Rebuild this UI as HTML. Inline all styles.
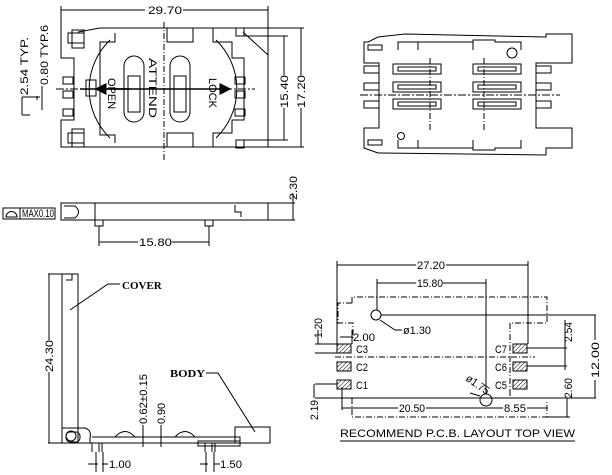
<!DOCTYPE html>
<html><head><meta charset="utf-8"><style>
html,body{margin:0;padding:0;background:#fff;}
svg{display:block;}
text{font-family:"Liberation Sans",sans-serif;font-size:11px;fill:#000;stroke:none;}
</style></head><body>
<svg width="612" height="475" viewBox="0 0 612 475" xmlns="http://www.w3.org/2000/svg" fill="none" stroke="#000" stroke-width="1">
<defs>
<pattern id="h" width="3" height="3" patternUnits="userSpaceOnUse" patternTransform="rotate(45)"><line x1="0" y1="0" x2="0" y2="3" stroke="#000" stroke-width="1"/></pattern>
<marker id="a" markerWidth="8" markerHeight="8" refX="7" refY="4" orient="auto"><path d="M0,0 L8,4 L0,8z" fill="#000" stroke="none"/></marker>
</defs>

<!-- ===== TOP-LEFT VIEW ===== -->
<line x1="61" y1="6" x2="61" y2="38"/><line x1="268" y1="6" x2="268" y2="28"/>
<line x1="61" y1="10" x2="145" y2="10"/><line x1="183" y1="10" x2="268" y2="10"/>
<text x="148" y="14" textLength="34" lengthAdjust="spacingAndGlyphs">29.70</text>
<path d="M61,36 L61,58 L74,58 L74,120 L61,120 L61,147 L268,147 L268,28 L100,28 L78,32"/>
<path d="M115,33 L115,42 L100,42 L100,135 L115,135 L115,143"/>
<path d="M243,32 L268,55"/>
<rect x="68" y="33" width="16" height="10"/><rect x="72" y="30" width="12" height="18"/>
<rect x="68" y="133" width="16" height="10"/><rect x="72" y="129" width="12" height="18"/>
<rect x="236" y="28" width="8" height="8"/><rect x="236" y="140" width="8" height="8"/>
<path d="M167,28 L167,42 L193,42 L193,28"/><path d="M167,147 L167,133 L193,133 L193,147"/>
<path d="M213,28 L213,42 L232,42 L232,58 L244,58 L244,120 L232,120 L232,133 L213,133 L213,147"/>
<rect x="63" y="77" width="10" height="7"/><rect x="63" y="91" width="10" height="7"/><rect x="63" y="109" width="10" height="7"/>
<rect x="235" y="77" width="10" height="7"/><rect x="235" y="91" width="10" height="7"/><rect x="235" y="109" width="10" height="7"/>
<path d="M110,40 A68,68 0 0 0 110,138"/><path d="M216,40 A68,68 0 0 1 216,138"/>
<rect x="124" y="56" width="20" height="66" rx="10"/><rect x="170" y="56" width="20" height="66" rx="10"/>
<rect x="128" y="76" width="12" height="36"/><rect x="174" y="76" width="12" height="36"/>
<rect x="86" y="80" width="10" height="16"/>
<line x1="164" y1="22" x2="164" y2="160" stroke-dasharray="6,2,1,2"/>
<line x1="56" y1="89" x2="255" y2="89" stroke-dasharray="8,2,2,2"/>
<line x1="80" y1="89" x2="230" y2="89" stroke-width="1.5" marker-end="url(#a)"/>
<line x1="130" y1="89" x2="96" y2="89" stroke-width="1.5" marker-end="url(#a)"/>
<text x="0" y="0" transform="translate(149,58) rotate(90)" font-size="15" textLength="60" lengthAdjust="spacingAndGlyphs">ATTEND</text>
<text x="0" y="0" transform="translate(108,78) rotate(90)" font-size="9">OPEN</text>
<text x="0" y="0" transform="translate(209,78) rotate(90)" font-size="9">LOCK</text>
<line x1="244" y1="36" x2="288" y2="36"/><line x1="244" y1="140" x2="288" y2="140"/>
<line x1="268" y1="147" x2="304" y2="147"/><line x1="268" y1="28" x2="304" y2="28"/>
<line x1="284" y1="36" x2="284" y2="75"/><line x1="284" y1="108" x2="284" y2="140"/>
<line x1="301" y1="28" x2="301" y2="75"/><line x1="301" y1="108" x2="301" y2="147"/>
<text transform="translate(288,108) rotate(-90)" textLength="33" lengthAdjust="spacingAndGlyphs">15.40</text>
<text transform="translate(305,108) rotate(-90)" textLength="33" lengthAdjust="spacingAndGlyphs">17.20</text>
<line x1="22" y1="97" x2="22" y2="115"/><line x1="22" y1="97" x2="40" y2="97"/><line x1="22" y1="115" x2="30" y2="115"/>
<line x1="42" y1="86" x2="42" y2="110"/><line x1="37" y1="96" x2="37" y2="100"/>
<text transform="translate(28,95) rotate(-90)" textLength="58" lengthAdjust="spacingAndGlyphs">2.54 TYP.</text>
<text transform="translate(48,85) rotate(-90)" textLength="60" lengthAdjust="spacingAndGlyphs">0.80 TYP.6</text>

<!-- ===== TOP-RIGHT VIEW ===== -->
<path d="M368,42 L364,42 L364,63 L379,63 L379,128 L364,128 L364,148 L378,153 L546,155 L546,148 L572,148 L572,128 L536,128 L536,63 L572,63 L572,34 L546,34 L546,37 L405,34 L378,37 Z"/>
<path d="M398,50 L398,42 L473,42 L473,50 M473,42 L473,40 L495,40 L495,42 L521,42 L521,50"/>
<path d="M398,140 L398,148 L473,148 L473,140 M473,148 L473,150 L495,150 L495,148 L521,148 L521,140"/>
<line x1="418" y1="42" x2="418" y2="50"/><line x1="418" y1="140" x2="418" y2="148"/>
<rect x="368" y="45" width="14" height="5"/><rect x="368" y="140" width="14" height="5"/>
<circle cx="512" cy="53" r="5"/><circle cx="401" cy="136" r="3.5"/>
<g>
<rect x="393" y="64" width="48" height="10"/><rect x="398" y="67" width="38" height="4"/>
<rect x="393" y="82" width="48" height="10"/><rect x="398" y="85" width="38" height="4"/>
<rect x="393" y="99" width="48" height="10"/><rect x="398" y="102" width="38" height="4"/>
<rect x="473" y="64" width="48" height="10"/><rect x="478" y="67" width="38" height="4"/>
<rect x="473" y="82" width="48" height="10"/><rect x="478" y="85" width="38" height="4"/>
<rect x="473" y="99" width="48" height="10"/><rect x="478" y="102" width="38" height="4"/>
</g>
<rect x="364" y="66" width="15" height="7"/><rect x="364" y="83" width="15" height="7"/><rect x="364" y="101" width="15" height="7"/>
<rect x="536" y="66" width="15" height="7"/><rect x="536" y="83" width="15" height="7"/><rect x="536" y="101" width="15" height="7"/>
<line x1="360" y1="95" x2="560" y2="95" stroke-dasharray="8,2,2,2"/>
<line x1="430" y1="58" x2="430" y2="130" stroke-dasharray="6,2,1,2"/>
<line x1="484" y1="58" x2="484" y2="130" stroke-dasharray="6,2,1,2"/>

<!-- ===== SIDE VIEW ===== -->
<path d="M61,220 L61,203 L268,203 L268,220 Z"/>
<line x1="95" y1="203" x2="95" y2="220"/>
<path d="M64,206 L75,206 Q82,212 75,218 L64,218"/>
<path d="M235,205 L235,212 L241,212 L241,217"/>
<line x1="268" y1="203" x2="295" y2="203"/><line x1="268" y1="220" x2="295" y2="220"/>
<line x1="293" y1="193" x2="293" y2="220"/>
<text transform="translate(297,200) rotate(-90)" textLength="24" lengthAdjust="spacingAndGlyphs">2.30</text>
<rect x="3" y="208" width="17" height="11"/><rect x="20" y="208" width="35" height="11"/>
<path d="M6,217 A5,5 0 0 1 17,217 Z"/>
<text x="22" y="217" font-size="8" textLength="32" lengthAdjust="spacingAndGlyphs">MAX0.10</text>
<rect x="95" y="220" width="8" height="6"/><rect x="205" y="220" width="8" height="6"/>
<line x1="99" y1="226" x2="99" y2="246"/><line x1="209" y1="226" x2="209" y2="246"/>
<line x1="99" y1="242" x2="138" y2="242"/><line x1="172" y1="242" x2="209" y2="242"/>
<text x="139" y="246" textLength="33" lengthAdjust="spacingAndGlyphs">15.80</text>

<!-- ===== BOTTOM-LEFT ===== -->
<path d="M62,443 L62,274 L78,274 L78,443"/><path d="M66,280 L72,280 L72,274"/>
<line x1="48" y1="274" x2="62" y2="274"/><line x1="48" y1="443" x2="62" y2="443"/>
<line x1="49" y1="274" x2="49" y2="340"/><line x1="49" y1="372" x2="49" y2="443"/>
<text transform="translate(53,372) rotate(-90)" textLength="32" lengthAdjust="spacingAndGlyphs">24.30</text>
<path d="M70,310 L108,284 L120,284"/>
<text x="122" y="289" font-size="12" font-weight="bold" style="font-family:'Liberation Serif',serif">COVER</text>
<path d="M62,428 L85,428 Q92,430 90,438 L90,443 M62,443 L240,443 L240,437 L92,437"/>
<circle cx="71" cy="436" r="5"/><rect x="66" y="432" width="14" height="10" rx="4"/>
<path d="M115,437 Q125,426 135,437"/><path d="M175,437 Q185,426 195,437"/>
<rect x="235" y="427" width="35" height="16"/>
<rect x="198" y="441" width="42" height="5"/>
<line x1="92" y1="443" x2="92" y2="452"/><line x1="99" y1="443" x2="99" y2="452"/><line x1="102" y1="443" x2="102" y2="452"/>
<line x1="205" y1="443" x2="205" y2="452"/><line x1="212" y1="443" x2="212" y2="452"/><line x1="215" y1="443" x2="215" y2="452"/>
<line x1="88" y1="464" x2="98" y2="464"/><line x1="102" y1="464" x2="108" y2="464"/>
<line x1="96" y1="452" x2="96" y2="472"/><line x1="103" y1="452" x2="103" y2="472"/>
<text x="109" y="468" textLength="22" lengthAdjust="spacingAndGlyphs">1.00</text>
<line x1="200" y1="464" x2="208" y2="464"/><line x1="214" y1="464" x2="220" y2="464"/>
<line x1="206" y1="452" x2="206" y2="472"/><line x1="214" y1="452" x2="214" y2="472"/>
<text x="220" y="468" textLength="22" lengthAdjust="spacingAndGlyphs">1.50</text>
<line x1="143" y1="425" x2="143" y2="447"/><line x1="161" y1="425" x2="161" y2="447"/>
<text transform="translate(147,424) rotate(-90)" textLength="50" lengthAdjust="spacingAndGlyphs">0.62±0.15</text>
<text transform="translate(165,424) rotate(-90)" textLength="21" lengthAdjust="spacingAndGlyphs">0.90</text>
<text x="170" y="377" font-size="12" font-weight="bold" style="font-family:'Liberation Serif',serif" textLength="35" lengthAdjust="spacingAndGlyphs">BODY</text>
<path d="M206,373 L218,373 L255,432"/>

<!-- ===== PCB LAYOUT ===== -->
<line x1="337" y1="261" x2="337" y2="344"/><line x1="528" y1="261" x2="528" y2="344"/>
<line x1="337" y1="265" x2="416" y2="265"/><line x1="446" y1="265" x2="528" y2="265"/>
<text x="417" y="269" textLength="28" lengthAdjust="spacingAndGlyphs">27.20</text>
<line x1="377" y1="279" x2="377" y2="310"/><line x1="486" y1="279" x2="486" y2="394"/>
<line x1="377" y1="283" x2="416" y2="283"/><line x1="443" y1="283" x2="486" y2="283"/>
<text x="417" y="287" textLength="26" lengthAdjust="spacingAndGlyphs">15.80</text>
<g stroke-dasharray="6,2,1,2">
<path d="M352,303 L352,297 L547,297 L547,323 L510,323 L510,390 M510,390 L510,398"/>
<path d="M352,303 L338,303 L338,323 L353,323 L353,340"/>
<path d="M352,398 L352,417 L547,417 L547,400"/>
<line x1="335" y1="357" x2="535" y2="357"/>
</g>
<circle cx="376" cy="315" r="5"/><line x1="381" y1="315" x2="596" y2="315"/>
<path d="M380,320 L395,330 L402,330"/>
<text x="403" y="334" textLength="28" lengthAdjust="spacingAndGlyphs">ø1.30</text>
<circle cx="486" cy="400" r="6"/>
<text transform="translate(465,380) rotate(35)" textLength="26" lengthAdjust="spacingAndGlyphs">ø1.75</text>
<line x1="470" y1="393" x2="480" y2="396"/>
<line x1="315" y1="398" x2="596" y2="398"/>
<g fill="url(#h)">
<rect x="337" y="344" width="14" height="9"/><rect x="337" y="362" width="14" height="9"/><rect x="337" y="380" width="14" height="9"/>
<rect x="513" y="344" width="14" height="9"/><rect x="513" y="362" width="14" height="9"/><rect x="513" y="380" width="14" height="9"/>
</g>
<text x="356" y="353" textLength="12" lengthAdjust="spacingAndGlyphs">C3</text>
<text x="356" y="371" textLength="12" lengthAdjust="spacingAndGlyphs">C2</text>
<text x="356" y="389" textLength="12" lengthAdjust="spacingAndGlyphs">C1</text>
<text x="495" y="353" textLength="12" lengthAdjust="spacingAndGlyphs">C7</text>
<text x="495" y="371" textLength="12" lengthAdjust="spacingAndGlyphs">C6</text>
<text x="495" y="389" textLength="12" lengthAdjust="spacingAndGlyphs">C5</text>
<line x1="527" y1="348" x2="567" y2="348"/><line x1="527" y1="366" x2="567" y2="366"/>
<line x1="565" y1="320" x2="565" y2="370"/>
<text transform="translate(572,342) rotate(-90)" textLength="20" lengthAdjust="spacingAndGlyphs">2.54</text>
<line x1="567" y1="398" x2="567" y2="417"/><line x1="547" y1="417" x2="570" y2="417"/>
<text transform="translate(572,398) rotate(-90)" textLength="20" lengthAdjust="spacingAndGlyphs">2.60</text>
<line x1="595" y1="315" x2="595" y2="340"/><line x1="595" y1="380" x2="595" y2="398"/>
<text transform="translate(599,378) rotate(-90)" textLength="36" lengthAdjust="spacingAndGlyphs">12.00</text>
<line x1="315" y1="344" x2="337" y2="344"/><line x1="315" y1="353" x2="337" y2="353"/>
<line x1="318" y1="330" x2="318" y2="344"/>
<text transform="translate(322,338) rotate(-90)" textLength="20" lengthAdjust="spacingAndGlyphs">1.20</text>
<line x1="315" y1="384" x2="337" y2="384"/><line x1="314" y1="384" x2="314" y2="398"/>
<text transform="translate(318,420) rotate(-90)" textLength="20" lengthAdjust="spacingAndGlyphs">2.19</text>
<line x1="340" y1="337" x2="352" y2="337"/><line x1="352" y1="330" x2="352" y2="344"/>
<text x="353" y="341" textLength="22" lengthAdjust="spacingAndGlyphs">2.00</text>
<line x1="342" y1="387" x2="342" y2="410"/><line x1="342" y1="408" x2="398" y2="408"/><line x1="426" y1="408" x2="486" y2="408"/>
<text x="399" y="412" textLength="26" lengthAdjust="spacingAndGlyphs">20.50</text>
<line x1="486" y1="408" x2="503" y2="408"/><line x1="527" y1="408" x2="547" y2="408"/>
<text x="504" y="412" textLength="22" lengthAdjust="spacingAndGlyphs">8.55</text>
<text x="340" y="437" font-size="12" textLength="235" lengthAdjust="spacingAndGlyphs">RECOMMEND P.C.B. LAYOUT  TOP VIEW</text>
<line x1="340" y1="441" x2="575" y2="441"/>
</svg>
</body></html>
